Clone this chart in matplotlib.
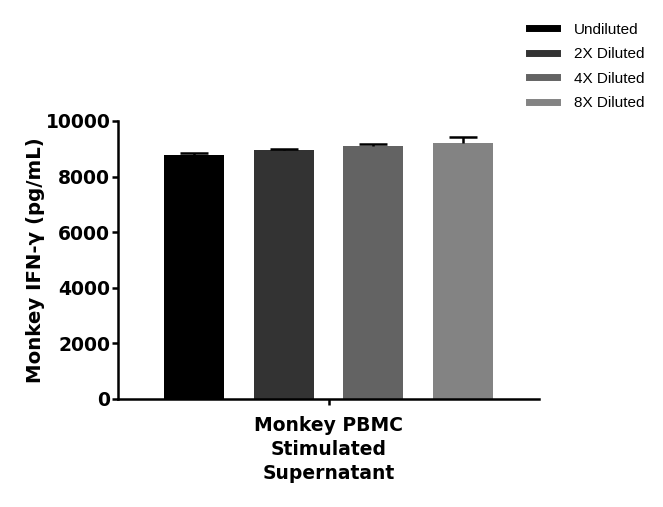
import matplotlib
matplotlib.use("Agg")
import matplotlib.pyplot as plt
from matplotlib.lines import Line2D

series = ["Undiluted", "2X Diluted", "4X Diluted", "8X Diluted"]
values = [8780, 8960, 9100, 9220]
errors = [80, 25, 55, 190]
colors = ["#000000", "#333333", "#636363", "#838383"]
group_label = "Monkey PBMC\nStimulated\nSupernatant"
yticks = [0, 2000, 4000, 6000, 8000, 10000]

fig = plt.figure(figsize=(6.63, 5.07), dpi=100)
ax = fig.add_axes([118/663, 1-399/507, (539-118)/663, (399-121)/507])

bold = dict(family="DejaVu Sans", weight="bold")
for i, (v, e, c) in enumerate(zip(values, errors, colors)):
    ax.bar(i, v, width=0.67, color=c, zorder=2)
    _, caps, _ = ax.errorbar(i, v, yerr=[[0], [e]], color="black", capsize=10.4,
                             capthick=1.8, elinewidth=1.8, zorder=3)
    caps[0].set_visible(False)

ax.set_xlim(-0.847, 3.846)
ax.set_ylim(0, 10000)
ax.set_yticks(yticks)
ax.set_yticklabels([str(t) for t in yticks], fontsize=13.5, **bold)
ax.set_xticks([1.5])
ax.set_xticklabels([group_label], fontsize=13.5, linespacing=1.33, **bold)
ax.set_ylabel("Monkey IFN-γ (pg/mL)", fontsize=14.2, labelpad=0.5, **bold)

for s in ["top", "right"]:
    ax.spines[s].set_visible(False)
for s in ["left", "bottom"]:
    ax.spines[s].set_linewidth(1.8)
ax.tick_params(axis="both", width=1.8, length=4.5, direction="out")
ax.tick_params(axis="y", pad=1)
ax.tick_params(axis="x", pad=8)

handles = [Line2D([0], [0], color=c, lw=5) for c in colors]
fig.legend(handles, series, loc="upper left", bbox_to_anchor=(515/663, 1-9/507),
           frameon=False, handlelength=1.85, handletextpad=1.1, labelspacing=0.68,
           prop=dict(family="Liberation Sans", size=11))

fig.savefig("out.png", dpi=100)
